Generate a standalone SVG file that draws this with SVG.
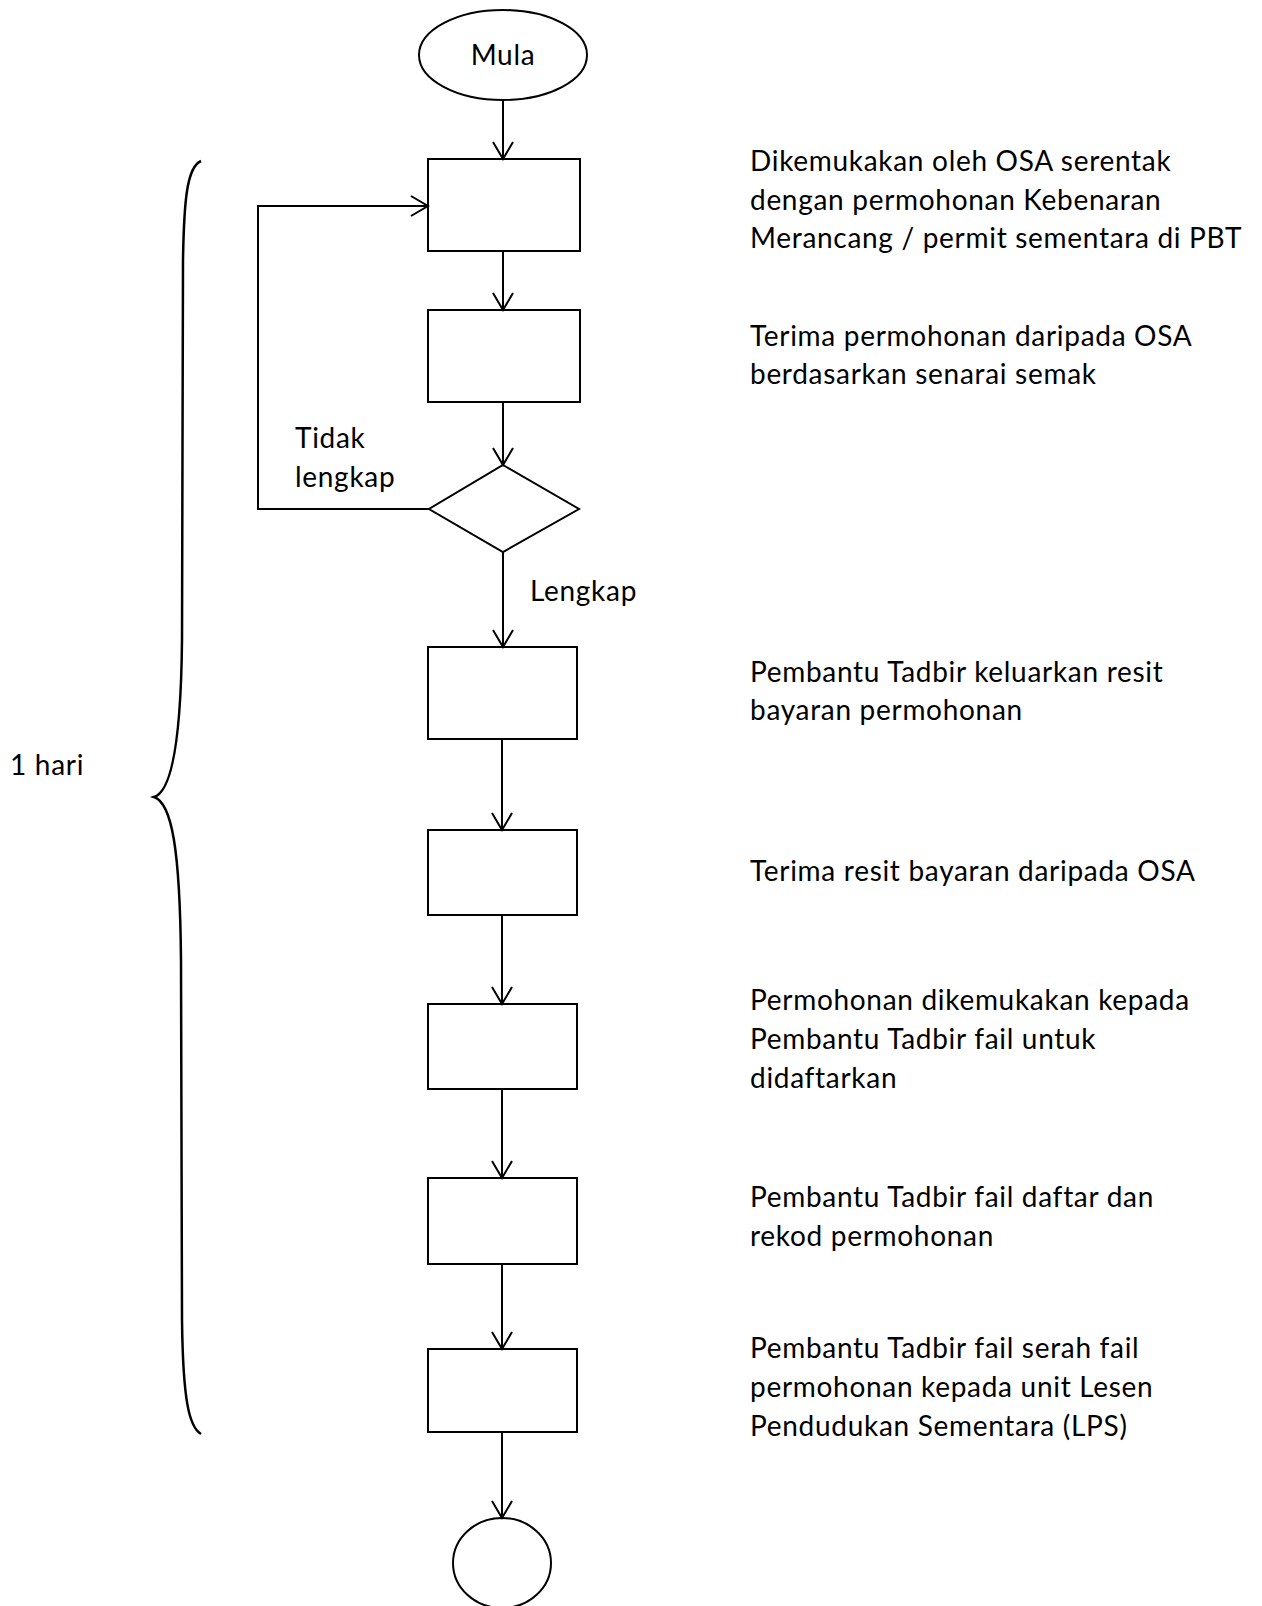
<svg xmlns="http://www.w3.org/2000/svg" width="1262" height="1606" viewBox="0 0 1262 1606">
<style>
.s{fill:none;stroke:#000;stroke-width:2}
.t{font-family:Lato,"Liberation Sans",sans-serif;font-size:28px;letter-spacing:0.7px;fill:#000}
.c{stroke:#000;stroke-width:2;fill:none}
</style>
<defs>
<marker id="ah" markerUnits="userSpaceOnUse" markerWidth="22" markerHeight="26" refX="18" refY="12" orient="auto" viewBox="0 0 22 26">
<path d="M1,2 L18,12 L1,22" fill="none" stroke="#000" stroke-width="2"/>
</marker>
</defs>
<rect width="1262" height="1606" fill="#fff"/>
<g id="start"><ellipse class="s" cx="503" cy="55" rx="84" ry="45"/><text class="t" x="503" y="65" text-anchor="middle">Mula</text></g>
<g id="b1"><rect class="s" x="428" y="159" width="152" height="92"/></g>
<g id="b2"><rect class="s" x="428" y="310" width="152" height="92"/></g>
<g id="d1"><polygon class="s" points="503,465 579,509 503,552 429,509"/></g>
<g id="b3"><rect class="s" x="428" y="647" width="149" height="92"/></g>
<g id="b4"><rect class="s" x="428" y="830" width="149" height="85"/></g>
<g id="b5"><rect class="s" x="428" y="1004" width="149" height="85"/></g>
<g id="b6"><rect class="s" x="428" y="1178" width="149" height="86"/></g>
<g id="b7"><rect class="s" x="428" y="1349" width="149" height="83"/></g>
<g id="end"><ellipse class="s" cx="502" cy="1563" rx="49" ry="45"/></g>
<g id="connectors">
<path class="c" d="M503,100 V159" marker-end="url(#ah)"/>
<path class="c" d="M503,251 V310" marker-end="url(#ah)"/>
<path class="c" d="M503,402 V465" marker-end="url(#ah)"/>
<path class="c" d="M503,552 V647" marker-end="url(#ah)"/>
<path class="c" d="M502,739 V830" marker-end="url(#ah)"/>
<path class="c" d="M502,915 V1004" marker-end="url(#ah)"/>
<path class="c" d="M502,1089 V1178" marker-end="url(#ah)"/>
<path class="c" d="M502,1264 V1349" marker-end="url(#ah)"/>
<path class="c" d="M502,1432 V1518" marker-end="url(#ah)"/>
<path class="c" d="M429,509 H258 V206 H428" marker-end="url(#ah)"/>
</g>
<g id="labels">
<text class="t" x="295" y="448">Tidak</text>
<text class="t" x="295" y="487">lengkap</text>
<text class="t" x="530" y="601">Lengkap</text>
<text class="t" x="10" y="775">1 hari</text>
</g>
<g id="brace"><path d="M201,161 C187,167 184,200 183,260 L182,640 C181,745 171,792 154,797 C172,803 180,850 181,960 L182,1320 C183,1400 189,1427 201,1434" fill="none" stroke="#000" stroke-width="2.5"/></g>
<g id="notes">
<text class="t" x="750" y="171">Dikemukakan oleh OSA serentak</text>
<text class="t" x="750" y="210">dengan permohonan Kebenaran</text>
<text class="t" x="750" y="248">Merancang / permit sementara di PBT</text>
<text class="t" x="750" y="346">Terima permohonan daripada OSA</text>
<text class="t" x="750" y="384">berdasarkan senarai semak</text>
<text class="t" x="750" y="682">Pembantu Tadbir keluarkan resit</text>
<text class="t" x="750" y="720">bayaran permohonan</text>
<text class="t" x="750" y="881">Terima resit bayaran daripada OSA</text>
<text class="t" x="750" y="1010">Permohonan dikemukakan kepada</text>
<text class="t" x="750" y="1049">Pembantu Tadbir fail untuk</text>
<text class="t" x="750" y="1088">didaftarkan</text>
<text class="t" x="750" y="1207">Pembantu Tadbir fail daftar dan</text>
<text class="t" x="750" y="1246">rekod permohonan</text>
<text class="t" x="750" y="1358">Pembantu Tadbir fail serah fail</text>
<text class="t" x="750" y="1397">permohonan kepada unit Lesen</text>
<text class="t" x="750" y="1436">Pendudukan Sementara (LPS)</text>
</g>
</svg>
